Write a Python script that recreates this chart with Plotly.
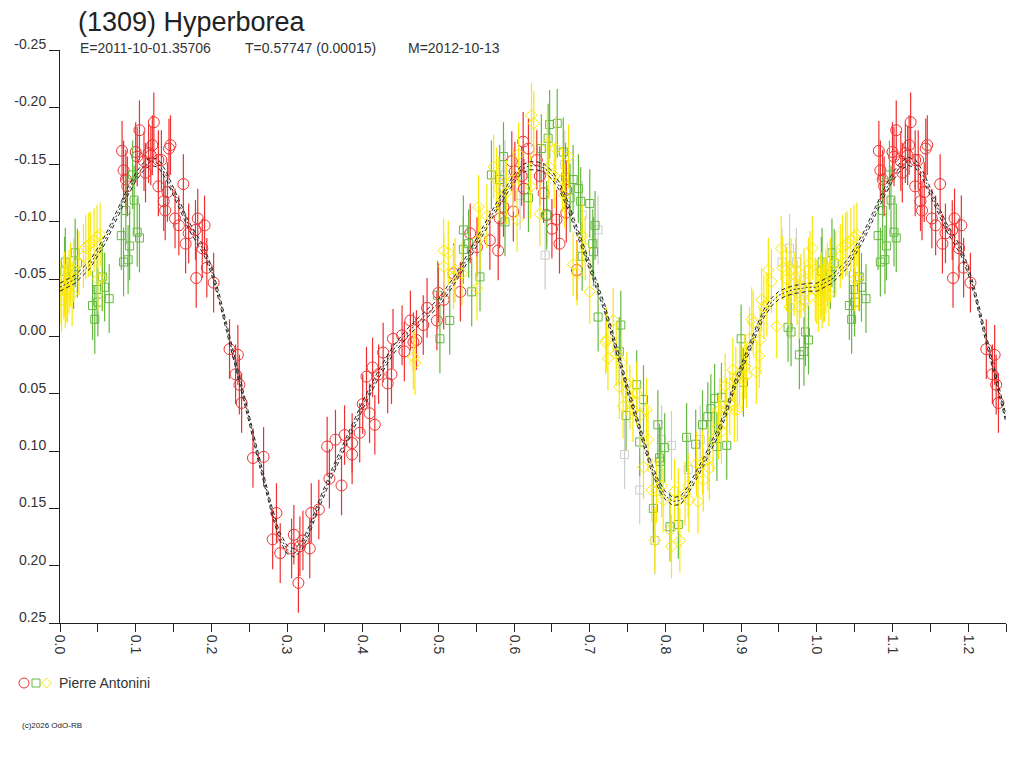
import plotly.graph_objects as go

# ---------------- data (phase, reduced magnitude) ----------------
red_phase = [0.082,0.084,0.087,0.089,0.100,0.102,0.105,0.111,0.113,0.117,0.120,0.122,0.124,0.130,0.130,0.134,0.137,0.139,0.142,0.144,0.146,0.152,0.157,0.163,0.166,0.170,0.179,0.180,0.182,0.188,0.191,0.194,0.203,
             0.224,0.232,0.235,0.237,0.240,0.255,0.269,0.281,0.286,0.291,0.306,0.309,0.315,0.317,0.321,0.330,0.332,0.342,0.353,0.356,0.364,0.372,0.376,0.386,0.386,0.396,0.400,0.405,0.409,0.413,0.416,0.421,0.427,0.433,0.438,0.440,
             0.452,0.455,0.463,0.467,0.471,0.480,0.485,0.498,0.500,0.507,0.520,0.529,0.542,0.551,0.568,0.579,0.581,0.586,0.597,0.599,0.601,0.610,0.612,0.613,0.619,0.630,0.634,0.639,0.643,0.650,0.656,0.660,0.669,0.669,0.683]
red_mag = [-0.162,-0.145,-0.137,-0.131,-0.161,-0.157,-0.180,-0.153,-0.143,-0.160,-0.158,-0.167,-0.187,-0.154,-0.131,-0.154,-0.118,-0.110,-0.126,-0.164,-0.167,-0.103,-0.097,-0.133,-0.081,-0.090,-0.093,-0.051,-0.103,-0.077,-0.097,-0.060,-0.047,
           0.011,0.033,0.016,0.042,0.058,0.106,0.105,0.177,0.154,0.189,0.185,0.173,0.215,0.183,0.178,0.185,0.154,0.151,0.096,0.124,0.090,0.130,0.086,0.103,0.093,0.084,0.059,0.035,0.067,0.027,0.077,0.033,0.014,0.041,0.033,0.002,
           -0.001,0.013,-0.014,0.005,0.003,-0.010,-0.025,-0.014,-0.038,-0.032,-0.055,-0.039,-0.090,-0.078,-0.084,-0.075,-0.103,-0.113,-0.153,-0.109,-0.144,-0.140,-0.170,-0.129,-0.164,-0.154,-0.140,-0.125,-0.106,-0.094,-0.102,-0.081,-0.108,-0.128,-0.058]

green_phase = [0.006,0.007,0.018,0.020,0.023,0.043,0.046,0.049,0.050,0.056,0.059,0.065,0.081,0.084,0.087,0.090,0.092,0.096,0.098,0.102,0.105,
               0.499,0.502,0.515,0.533,0.533,0.540,0.544,0.555,0.570,0.581,0.586,0.588,0.619,0.636,0.643,0.645,0.647,0.657,0.665,0.668,0.674,0.678,0.685,0.688,0.690,0.700,0.704,0.705,0.707,0.711,
               0.739,0.741,0.748,0.762,0.766,0.771,0.784,0.790,0.792,0.793,0.799,0.806,0.817,0.828,0.840,0.849,0.856,0.860,0.865,0.868,0.874,0.881,0.900,0.903,0.962,0.966,0.977,0.983,0.985,0.989]
green_mag = [-0.057,-0.065,-0.054,-0.073,-0.064,-0.027,-0.015,-0.041,-0.030,-0.052,-0.043,-0.033,-0.088,-0.065,-0.110,-0.067,-0.079,-0.141,-0.119,-0.091,-0.086,
             -0.036,0.002,-0.014,-0.093,-0.076,-0.081,-0.039,-0.052,-0.141,-0.137,-0.157,-0.100,-0.121,-0.164,-0.106,-0.173,-0.185,-0.186,-0.161,-0.139,-0.121,-0.137,-0.129,-0.118,-0.070,-0.116,-0.081,-0.074,-0.097,-0.017,
             0.013,-0.010,0.069,0.042,0.092,0.055,0.150,0.077,0.106,0.109,0.097,0.166,0.164,0.088,0.094,0.077,0.070,0.063,0.054,0.096,0.053,0.095,0.002,0.040,-0.008,-0.004,0.016,0.013,-0.004,0.003]

yellow_phase = [0.000,0.002,0.005,0.006,0.007,0.009,0.010,0.012,0.014,0.016,0.018,0.025,0.031,0.034,0.038,0.040,0.045,0.049,0.050,0.053,0.055,
                0.467,0.469,0.507,0.507,0.513,0.520,0.522,0.531,0.551,0.553,0.555,0.564,0.573,0.577,0.580,0.590,0.599,0.604,0.606,0.622,0.623,0.626,0.634,0.644,0.646,0.653,0.655,0.664,0.667,0.672,0.678,0.683,0.690,0.694,0.700,
                0.721,0.722,0.724,0.731,0.735,0.739,0.742,0.744,0.749,0.753,0.757,0.762,0.766,0.771,0.775,0.777,0.782,0.786,0.788,0.795,0.797,0.806,0.808,0.812,0.817,0.819,0.826,0.830,0.831,0.841,0.843,0.849,0.850,0.856,0.858,0.863,
                0.870,0.872,0.874,0.879,0.881,0.885,0.889,0.891,0.893,0.895,0.898,0.902,0.905,0.907,0.911,0.914,0.916,0.920,0.924,0.925,0.927,0.930,0.934,0.936,0.940,0.947,0.953,0.955,0.960,0.962,0.964,0.966,0.970,0.972,0.974,0.977,0.979,0.983,0.985,0.989,0.991,0.994,0.998]
yellow_mag = [-0.039,-0.032,-0.043,-0.046,-0.035,-0.040,-0.041,-0.048,-0.054,-0.037,-0.058,-0.064,-0.070,-0.078,-0.080,-0.081,-0.084,-0.087,-0.050,-0.089,-0.051,
              0.018,0.023,-0.075,-0.061,-0.073,-0.052,-0.058,-0.055,-0.042,-0.113,-0.086,-0.105,-0.148,-0.137,-0.129,-0.126,-0.137,-0.102,-0.159,-0.131,-0.193,-0.186,-0.107,-0.168,-0.148,-0.140,-0.164,-0.137,-0.123,-0.157,-0.063,-0.055,-0.088,-0.077,-0.039,
              0.005,0.003,0.019,-0.014,0.015,0.044,0.023,0.061,0.041,0.053,0.064,0.050,0.069,0.114,0.064,0.090,0.134,0.178,0.135,0.130,0.143,0.169,0.183,0.135,0.143,0.178,0.137,0.130,0.143,0.111,0.144,0.110,0.125,0.107,0.115,0.090,
              0.079,0.064,0.083,0.043,0.064,0.058,0.029,0.064,0.037,0.064,0.032,0.037,0.026,0.034,0.002,-0.015,-0.012,0.031,0.017,0.003,-0.032,-0.026,-0.028,-0.058,-0.048,-0.009,-0.077,-0.060,-0.050,-0.038,-0.026,-0.058,-0.046,-0.058,-0.038,-0.026,-0.044,-0.049,-0.030,-0.058,-0.064,-0.077,-0.041]

gray_phase = [0.588,0.608,0.641,0.667,0.690,0.711,0.746,0.766,0.786,0.795,0.808,0.830,0.846,0.954,0.964,0.973,0.984]
gray_mag = [-0.141,-0.123,-0.071,-0.150,-0.106,-0.093,0.103,0.134,0.178,0.090,0.095,0.116,0.090,-0.065,-0.077,-0.065,-0.032]

red_err, green_err, yellow_err, gray_err = 0.026, 0.030, 0.028, 0.030

fit_phase = [0.00,0.02,0.04,0.06,0.08,0.09,0.10,0.11,0.12,0.13,0.14,0.15,0.16,0.17,0.18,0.19,0.20,0.21,0.22,0.23,0.24,0.25,
             0.26,0.27,0.28,0.29,0.30,0.31,0.32,0.33,0.34,0.36,0.38,0.40,0.42,0.44,0.46,0.48,0.50,0.52,0.54,0.56,0.58,0.60,
             0.61,0.62,0.63,0.64,0.65,0.66,0.67,0.68,0.69,0.70,0.71,0.72,0.73,0.74,0.75,0.76,0.77,0.78,0.79,0.80,0.81,0.82,
             0.83,0.84,0.85,0.86,0.87,0.88,0.89,0.90,0.91,0.92,0.93,0.94,0.95,0.96,0.97,0.98,0.99,1.00]
fit_mag = [-0.043,-0.050,-0.063,-0.085,-0.113,-0.127,-0.139,-0.148,-0.153,-0.151,-0.141,-0.126,-0.112,-0.097,-0.086,-0.075,-0.058,-0.035,-0.008,0.018,0.045,0.072,
           0.100,0.127,0.152,0.174,0.186,0.189,0.182,0.168,0.150,0.118,0.089,0.060,0.034,0.012,-0.004,-0.017,-0.029,-0.048,-0.070,-0.093,-0.117,-0.138,
           -0.146,-0.149,-0.149,-0.147,-0.141,-0.131,-0.116,-0.098,-0.080,-0.062,-0.043,-0.024,-0.002,0.022,0.046,0.068,0.090,0.111,0.128,0.139,0.144,0.143,
           0.134,0.122,0.110,0.096,0.083,0.066,0.045,0.028,0.011,-0.005,-0.020,-0.030,-0.036,-0.039,-0.041,-0.042,-0.043,-0.043]
fit_sigma = 0.0035

x_ticks = [0.0,0.1,0.2,0.3,0.4,0.5,0.6,0.7,0.8,0.9,1.0,1.1,1.2]
x_ticktext = ["0.0","0.1","0.2","0.3","0.4","0.5","0.6","0.7","0.8","0.9","1.0","1.1","1.2"]
y_ticks = [-0.25,-0.20,-0.15,-0.10,-0.05,0.0,0.05,0.10,0.15,0.20,0.25]
y_ticktext = ["-0.25","-0.20","-0.15","-0.10","-0.05","0.00","0.05","0.10","0.15","0.20","0.25"]

title_text = "(1309) Hyperborea"
sub_e = "E=2011-10-01.35706"
sub_t = "T=0.57747 (0.00015)"
sub_m = "M=2012-10-13"
observer = "Pierre Antonini"
copyright_text = "(c)2026 OdO-RB"

# ---------------- helpers ----------------
def extend(ph, mg, upto=0.25):
    xs = list(ph); ys = list(mg)
    for p, m in zip(ph, mg):
        if p < upto:
            xs.append(p + 1.0); ys.append(m)
    return xs, ys

FONT = "Liberation Sans, Arial, sans-serif"
RED = "rgb(238,48,48)"
GREEN = "rgb(100,184,64)"
YELLOW = "rgb(250,232,0)"
GRAY = "rgb(205,205,205)"

fig = go.Figure()

def add_series(ph, mg, err, color, symbol, size):
    xs, ys = extend(ph, mg)
    fig.add_trace(go.Scatter(
        x=xs, y=ys, mode="markers",
        marker=dict(symbol=symbol, size=size, color=color,
                    line=dict(color=color, width=1)),
        error_y=dict(type="constant", value=err, color=color, thickness=1.2, width=0),
        showlegend=False, hoverinfo="skip"))

add_series(gray_phase, gray_mag, gray_err, GRAY, "square-open", 8)
add_series(red_phase, red_mag, red_err, RED, "circle-open", 11)
add_series(green_phase, green_mag, green_err, GREEN, "square-open", 8)
add_series(yellow_phase, yellow_mag, yellow_err, YELLOW, "diamond-open", 9)

fx, fy = extend(fit_phase[:-1], fit_mag[:-1], upto=0.251)
order = sorted(range(len(fx)), key=lambda i: fx[i])
fx = [fx[i] for i in order]; fy = [fy[i] for i in order]
fig.add_trace(go.Scatter(x=fx, y=[v - fit_sigma for v in fy], mode="lines",
                         line=dict(color="#222", width=1, dash="4px,3px"), showlegend=False, hoverinfo="skip"))
fig.add_trace(go.Scatter(x=fx, y=[v + fit_sigma for v in fy], mode="lines",
                         line=dict(color="#222", width=1, dash="4px,3px"), showlegend=False, hoverinfo="skip"))
fig.add_trace(go.Scatter(x=fx, y=fy, mode="lines",
                         line=dict(color="#333", width=1, dash="2px,2px"), showlegend=False, hoverinfo="skip"))

L, R, T, B = 60, 18, 50, 145
PW, PH = 1024 - L - R, 768 - T - B

def px_x(px):
    return (px - L) / PW

def px_y(py):
    return (768 - B - py) / PH

fig.update_layout(
    width=1024, height=768,
    margin=dict(l=L, r=R, t=T, b=B),
    paper_bgcolor="white", plot_bgcolor="white",
    font=dict(family=FONT, color="#333", size=14),
    title=dict(text=title_text, x=78 / 1024, xanchor="left", xref="container",
               y=1 - 22 / 768, yanchor="middle", yref="container",
               font=dict(family=FONT, size=27, color="#222")),
    xaxis=dict(range=[0, 1.25], tickmode="array", tickvals=x_ticks, ticktext=x_ticktext,
               tickangle=90, ticks="outside", ticklen=8, tickcolor="#222", tickwidth=1,
               showline=True, linecolor="#222", linewidth=1, showgrid=False, zeroline=False,
               minor=dict(tickmode="array", tickvals=[0.05,0.15,0.25,0.35,0.45,0.55,0.65,0.75,0.85,0.95,1.05,1.15,1.25],
                          ticks="outside", ticklen=8, tickcolor="#222", tickwidth=1),
               tickfont=dict(size=14, color="#333")),
    yaxis=dict(range=[0.25, -0.25], tickmode="array", tickvals=y_ticks, ticktext=y_ticktext,
               ticks="outside", ticklen=10, tickcolor="#222", tickwidth=1,
               showline=True, linecolor="#222", linewidth=1, showgrid=False, zeroline=False,
               tickfont=dict(size=14, color="#333"), ticklabelshift=6),
)

for txt, xpx in [(sub_e, 78), (sub_t, 243), (sub_m, 406)]:
    fig.add_annotation(text=txt, xref="paper", yref="paper", x=px_x(xpx), y=px_y(48),
                       xanchor="left", yanchor="middle", showarrow=False,
                       font=dict(family=FONT, size=14, color="#333"))

fig.add_annotation(text=observer, xref="paper", yref="paper", x=px_x(57), y=px_y(683),
                   xanchor="left", yanchor="middle", showarrow=False,
                   font=dict(family=FONT, size=14, color="#333"))
fig.add_annotation(text=copyright_text, xref="paper", yref="paper", x=px_x(20), y=px_y(725),
                   xanchor="left", yanchor="middle", showarrow=False,
                   font=dict(family=FONT, size=8, color="#222"))

ya = px_y(683)
fig.add_shape(type="circle", xref="paper", yref="paper", xsizemode="pixel", ysizemode="pixel",
              xanchor=0, yanchor=ya, x0=24 - L - 5, x1=24 - L + 5, y0=-5, y1=5,
              line=dict(color=RED, width=1))
fig.add_shape(type="rect", xref="paper", yref="paper", xsizemode="pixel", ysizemode="pixel",
              xanchor=0, yanchor=ya, x0=36 - L - 4, x1=36 - L + 4, y0=-4, y1=4,
              line=dict(color=GREEN, width=1))
cx = 46.5 - L
fig.add_shape(type="path", xref="paper", yref="paper", xsizemode="pixel", ysizemode="pixel",
              xanchor=0, yanchor=ya,
              path=f"M {cx-5},0 L {cx},5 L {cx+5},0 L {cx},-5 Z",
              line=dict(color=YELLOW, width=1))

fig.write_html("out.html", config={"displayModeBar": False},
               post_script="document.body.style.margin='0';document.body.style.padding='0';")
